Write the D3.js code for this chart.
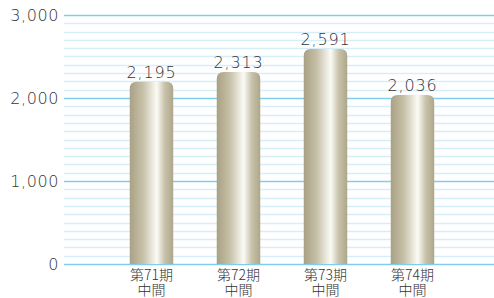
<!DOCTYPE html>
<html>
<head>
<meta charset="utf-8">
<script src="https://cdn.jsdelivr.net/npm/d3@7"></script>
<style>
body { margin: 0; background: #fff; }
svg { display: block; }
text { font-family: "DejaVu Sans", "Noto Sans CJK JP", sans-serif; font-weight: 200; fill: #333; }
.cat { font-family: "Noto Sans CJK JP", sans-serif; font-weight: 300; }
</style>
</head>
<body>
<svg width="494" height="298"></svg>
<script>
var categories = ["第71期", "第72期", "第73期", "第74期"];
var subLabels = ["中間", "中間", "中間", "中間"];
var values = [2195, 2313, 2591, 2036];
var yTicks = [0, 1000, 2000, 3000];

var svg = d3.select("svg");
var plotLeft = 64, plotRight = 494, plotTop = 15, plotBottom = 264;

var xScale = d3.scaleBand().domain(categories).range([108, 456])
  .paddingInner(0.5).paddingOuter(0.25);
var yScale = d3.scaleLinear().domain([0, 3000]).range([plotBottom, plotTop]);

// gradient for bars
var grad = svg.append("defs").append("linearGradient")
  .attr("id", "barGrad").attr("x1", "0%").attr("x2", "100%");
grad.append("stop").attr("offset", "0%").attr("stop-color", "#a9a184");
grad.append("stop").attr("offset", "30%").attr("stop-color", "#c6c0a8");
grad.append("stop").attr("offset", "62%").attr("stop-color", "#fbfbf6");
grad.append("stop").attr("offset", "80%").attr("stop-color", "#c9c3ac");
grad.append("stop").attr("offset", "100%").attr("stop-color", "#ada68a");

// minor grid
var minor = d3.range(100, 3000, 100).filter(function (d) { return d % 1000 !== 0; });
svg.append("g").selectAll("line").data(minor).enter().append("line")
  .attr("x1", plotLeft).attr("x2", plotRight)
  .attr("y1", function (d) { return Math.round(yScale(d)) + 0.5; })
  .attr("y2", function (d) { return Math.round(yScale(d)) + 0.5; })
  .attr("stroke", "#d6eef9").attr("stroke-width", 1.5);

// major grid
svg.append("g").selectAll("line").data(yTicks).enter().append("line")
  .attr("x1", plotLeft).attr("x2", plotRight)
  .attr("y1", function (d) { return Math.round(yScale(d)) + 0.5; })
  .attr("y2", function (d) { return Math.round(yScale(d)) + 0.5; })
  .attr("stroke", "#7fcdee").attr("stroke-width", 1.5);

// y axis labels
var yAxis = svg.append("g").attr("transform", "translate(" + plotLeft + ",0)")
  .call(d3.axisLeft(yScale).tickValues(yTicks).tickSize(0).tickPadding(5)
    .tickFormat(d3.format(",")));
yAxis.select(".domain").remove();
yAxis.selectAll("text").style("font-size", "16px").attr("fill", "#333")
  .style("font-family", "'DejaVu Sans', sans-serif").style("font-weight", "200")
  .style("letter-spacing", "0.6px");

// bars with rounded top
var r = 7;
var data = categories.map(function (c, i) { return { cat: c, sub: subLabels[i], value: values[i] }; });
svg.append("g").selectAll("path").data(data).enter().append("path")
  .attr("fill", "url(#barGrad)")
  .attr("d", function (d) {
    var x0 = xScale(d.cat), w = xScale.bandwidth();
    var y0 = yScale(d.value), yb = yScale(0);
    return "M" + x0 + "," + yb + "V" + (y0 + r) +
      "Q" + x0 + "," + y0 + " " + (x0 + r) + "," + y0 +
      "H" + (x0 + w - r) +
      "Q" + (x0 + w) + "," + y0 + " " + (x0 + w) + "," + (y0 + r) +
      "V" + yb + "Z";
  });

// value labels
svg.append("g").selectAll("text").data(data).enter().append("text")
  .attr("x", function (d) { return xScale(d.cat) + xScale.bandwidth() / 2; })
  .attr("y", function (d) { return yScale(d.value) - 4; })
  .attr("text-anchor", "middle").style("font-size", "16px")
  .style("letter-spacing", "0.8px")
  .text(function (d) { return d3.format(",")(d.value); });

// category labels
var cl = svg.append("g").selectAll("text").data(data).enter().append("text")
  .attr("class", "cat").attr("text-anchor", "middle").style("font-size", "14px");
cl.append("tspan")
  .attr("x", function (d) { return xScale(d.cat) + xScale.bandwidth() / 2; })
  .attr("y", 280).text(function (d) { return d.cat; });
cl.append("tspan")
  .attr("x", function (d) { return xScale(d.cat) + xScale.bandwidth() / 2; })
  .attr("y", 295).text(function (d) { return d.sub; });
</script>
</body>
</html>
